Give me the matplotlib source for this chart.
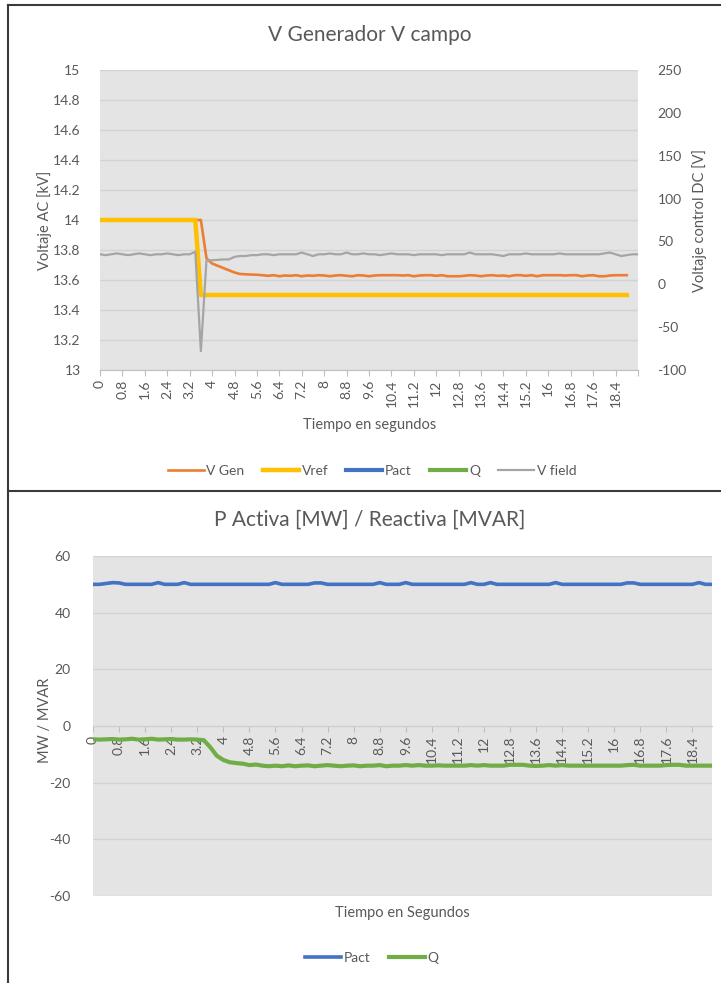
import numpy as np
import matplotlib
matplotlib.use("Agg")
import matplotlib.pyplot as plt
from matplotlib.lines import Line2D

plt.rcParams['font.family'] = ['Lato', 'DejaVu Sans']
plt.rcParams['axes.unicode_minus'] = False
TXT = '#595959'

# ---------------- data ----------------
# category axis: time in seconds, 0.2 s step
time_top = np.round(np.arange(97) * 0.2, 1)      # 0 .. 19.2
time_bot = np.round(np.arange(96) * 0.2, 1)      # 0 .. 19.0
tick_labels = ["0", "0.8", "1.6", "2.4", "3.2", "4", "4.8", "5.6", "6.4", "7.2", "8",
               "8.8", "9.6", "10.4", "11.2", "12", "12.8", "13.6", "14.4", "15.2", "16",
               "16.8", "17.6", "18.4"]

v_gen = ([14.0] * 19 +
         [13.745, 13.71, 13.695, 13.68, 13.665, 13.65,
          13.640, 13.638, 13.636, 13.635, 13.632, 13.628, 13.632, 13.625, 13.630, 13.628,
          13.632, 13.625, 13.630, 13.628, 13.632, 13.630, 13.625, 13.630, 13.632, 13.628,
          13.625, 13.632, 13.630, 13.625, 13.630, 13.632, 13.632, 13.632, 13.632, 13.630,
          13.632, 13.625, 13.630, 13.632, 13.632, 13.628, 13.632, 13.625, 13.625, 13.625,
          13.628, 13.632, 13.630, 13.625, 13.630, 13.632, 13.628, 13.630, 13.625, 13.632,
          13.632, 13.628, 13.632, 13.625, 13.632, 13.632, 13.632, 13.632, 13.630, 13.632,
          13.632, 13.625, 13.630, 13.632, 13.625, 13.625, 13.630, 13.632, 13.632, 13.632])

v_ref = [14.0] * 18 + [13.5] * 77

v_field = [35, 34, 35, 36, 35, 34, 35, 36, 35, 34, 35, 35, 36, 35, 34, 35, 35,
           38, -78, 28, 28, 28.5, 29, 29, 32, 33, 33, 34,
           34, 35, 35, 34, 35, 35, 35, 35, 37, 35, 33, 35, 35, 36, 35, 35,
           37, 35, 35, 36, 35, 35, 34, 35, 36, 35, 35, 35, 34, 35, 35, 35,
           35, 34, 35, 35, 35, 35, 37, 35, 35, 35, 35, 34, 33, 35, 35, 35,
           36, 35, 35, 35, 35, 35, 36, 35, 35, 35, 35, 35, 35, 35, 36, 37,
           35, 33, 34, 35, 35]

p_act = [50, 50, 50.3, 50.6, 50.5, 50, 50, 50, 50, 50, 50.6, 50, 50, 50, 50.6, 50,
         50, 50, 50, 50, 50, 50, 50, 50, 50, 50, 50, 50, 50.6, 50, 50, 50,
         50, 50, 50.5, 50.5, 50, 50, 50, 50, 50, 50, 50, 50, 50.6, 50, 50, 50,
         50.6, 50, 50, 50, 50, 50, 50, 50, 50, 50, 50.6, 50, 50, 50.6, 50, 50,
         50, 50, 50, 50, 50, 50, 50, 50.6, 50, 50, 50, 50, 50, 50, 50, 50,
         50, 50, 50.5, 50.5, 50, 50, 50, 50, 50, 50, 50, 50, 50, 50.6, 50, 50]

q_react = [-4.7, -4.8, -4.7, -4.6, -4.8, -4.7, -4.5, -4.8, -4.7, -4.5, -4.8, -4.7,
           -4.6, -4.8, -4.8, -4.7, -4.8, -5.0, -7.5, -10.5, -12.0, -12.8, -13.1, -13.3,
           -13.8, -13.6, -14.0, -14.2, -14.0, -14.2, -13.9, -14.2, -14.0, -13.9, -14.2, -14.0,
           -13.8, -14.0, -14.2, -14.0, -13.9, -14.2, -14.0, -14.0, -13.8, -14.2, -14.0, -14.0,
           -13.8, -14.0, -13.8, -14.0, -14.0, -13.9, -14.0, -14.0, -14.0, -14.0, -13.8, -14.0,
           -13.8, -14.0, -14.0, -14.0, -13.7, -13.7, -13.7, -14.0, -14.1, -14.0, -13.8, -14.0,
           -13.8, -14.0, -14.0, -14.0, -14.0, -14.0, -14.0, -14.0, -14.0, -14.0, -13.8, -13.7,
           -14.0, -14.0, -14.0, -14.0, -13.8, -13.7, -13.7, -14.0, -14.0, -14.0, -14.0, -14.0]

# ---------------- layout helpers ----------------
W, H = 721, 983
fig = plt.figure(figsize=(W / 100, H / 100), dpi=100)
def fx(px): return px / W
def fy(py): return 1 - py / H

C_GEN, C_REF, C_P, C_Q, C_FLD = '#ED7D31', '#FFC000', '#4472C4', '#70AD47', '#A5A5A5'
FACE = '#E4E4E4'
GRID = '#D3D3D3'

# ---------------- top chart ----------------
ax1 = fig.add_axes([fx(100), fy(370), fx(638) - fx(100), fy(70) - fy(370)])
ax1.set_facecolor(FACE)
idx_top = np.arange(len(time_top))
l_gen, = ax1.plot(idx_top[:len(v_gen)], v_gen, color=C_GEN, lw=1.9, label='V Gen', zorder=3)
l_ref, = ax1.plot(idx_top[:len(v_ref)], v_ref, color=C_REF, lw=3.2, label='Vref', zorder=4)
l_p1, = ax1.plot(np.arange(len(p_act)), p_act, color=C_P, lw=3.0, label='Pact', zorder=3)
l_q1, = ax1.plot(np.arange(len(q_react)), q_react, color=C_Q, lw=3.0, label='Q', zorder=3)
ax1.set_xlim(0, len(time_top) - 1)
ax1.set_ylim(13, 15)
yt = np.round(np.arange(13, 15.001, 0.2), 1)
ax1.set_yticks(yt)
ax1.set_yticklabels([f"{v:g}" for v in yt])
ax1.yaxis.grid(True, color=GRID, lw=1)
ax1.set_axisbelow(True)
xt = list(range(0, 97, 4))
ax1.set_xticks(xt)
ax1.set_xticklabels(tick_labels + [""], rotation=90)
for s in ['left', 'right', 'top']:
    ax1.spines[s].set_visible(False)
ax1.spines['bottom'].set_color('#BFBFBF')
ax1.tick_params(axis='x', length=4, color='#BFBFBF', labelsize=10, labelcolor=TXT, pad=3)
ax1.tick_params(axis='y', length=0, labelsize=10, labelcolor=TXT, pad=14)

ax2 = ax1.twinx()
l_fld, = ax2.plot(idx_top[:len(v_field)], v_field, color=C_FLD, lw=1.6, label='V field', zorder=5)
ax2.set_ylim(-100, 250)
ax2.set_yticks(range(-100, 251, 50))
for s in ax2.spines.values():
    s.set_visible(False)
ax2.tick_params(axis='y', length=0, labelsize=10, labelcolor=TXT, pad=14)

fig.text(fx(370), fy(35), 'V Generador V campo', ha='center', va='center', fontsize=15, color=TXT)
fig.text(fx(45), fy(220), 'Voltaje AC [kV]', ha='center', va='center', rotation=90, fontsize=10.5, color=TXT)
fig.text(fx(700), fy(220), 'Voltaje control DC [V]', ha='center', va='center', rotation=90, fontsize=10.5, color=TXT)
fig.text(fx(370), fy(425), 'Tiempo en segundos', ha='center', va='center', fontsize=10.5, color=TXT)
fig.legend([l_gen, l_ref, l_p1, l_q1, l_fld], ['V Gen', 'Vref', 'Pact', 'Q', 'V field'],
           loc='center', bbox_to_anchor=(fx(372), fy(471)), ncol=5, frameon=False,
           fontsize=10, labelcolor=TXT, handlelength=2.6, handletextpad=0.2, columnspacing=1.3)

# ---------------- bottom chart ----------------
ax3 = fig.add_axes([fx(93), fy(896), fx(712) - fx(93), fy(556) - fy(896)])
ax3.set_facecolor(FACE)
for s in ['left', 'right', 'top']:
    ax3.spines[s].set_visible(False)
ax3.spines['bottom'].set_position(('data', 0))
ax3.spines['bottom'].set_color('#D0D0D0')
idx_bot = np.arange(len(time_bot))
l_p, = ax3.plot(idx_bot, p_act, color=C_P, lw=2.6, label='Pact', zorder=3, solid_joinstyle='round')
l_q, = ax3.plot(idx_bot, q_react, color=C_Q, lw=3.0, label='Q', zorder=3, solid_joinstyle='round')
ax3.set_xlim(0, len(time_bot) - 1)
ax3.set_ylim(-60, 60)
ax3.set_yticks(range(-60, 61, 20))
ax3.yaxis.grid(True, color=GRID, lw=1)
ax3.set_axisbelow(True)
ax3.set_xticks(list(range(0, 93, 4)))
ax3.set_xticklabels(tick_labels, rotation=90)
ax3.tick_params(axis='x', length=4, color='#BFBFBF', labelsize=10, labelcolor=TXT, pad=3,
                labelrotation=90)
ax3.tick_params(axis='y', length=0, labelsize=10, labelcolor=TXT, pad=16)

fig.text(fx(370), fy(520), 'P Activa [MW] / Reactiva [MVAR]', ha='center', va='center', fontsize=15, color=TXT)
fig.text(fx(45), fy(720), 'MW / MVAR', ha='center', va='center', rotation=90, fontsize=10.5, color=TXT)
fig.text(fx(402), fy(913), 'Tiempo en Segundos', ha='center', va='center', fontsize=10.5, color=TXT)
fig.legend([l_p, l_q], ['Pact', 'Q'], loc='center', bbox_to_anchor=(fx(372), fy(958)), ncol=2,
           frameon=False, fontsize=10, labelcolor=TXT, handlelength=2.6, handletextpad=0.2,
           columnspacing=1.3)

# ---------------- frame lines ----------------
for xs, ys in [([8, 8], [5, 983]), ([8, 721], [5, 5]), ([8, 721], [491, 491])]:
    fig.add_artist(Line2D([fx(x) for x in xs], [fy(y) for y in ys], transform=fig.transFigure,
                          color='#3A3A3A', lw=1.5))

fig.savefig('out.png', dpi=100)
